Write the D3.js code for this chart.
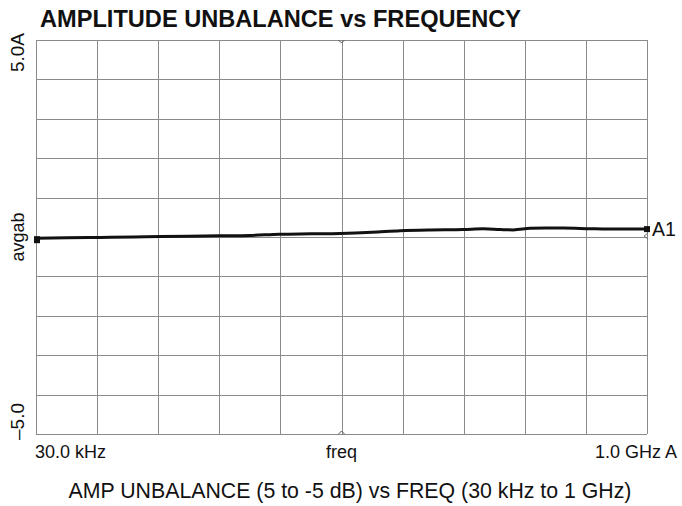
<!DOCTYPE html>
<html>
<head>
<meta charset="utf-8">
<script src="https://cdn.jsdelivr.net/npm/d3@7"></script>
<style>
  body { margin: 0; background: #fff; }
  text { font-family: "Liberation Sans", Arial, sans-serif; fill: #111; }
  .title { font-weight: bold; font-size: 23.6px; }
  .grid line { stroke: #8a8a8a; stroke-width: 1; shape-rendering: crispEdges; }
</style>
</head>
<body>
<div id="chart"></div>
<script>
// DATA: frequency in MHz (linear sweep) and amplitude unbalance in dB
const freqMHz = [0.03, 50, 105, 160, 203, 250, 300, 350, 399, 450, 498, 550, 596, 645, 699, 732, 760, 781, 809, 835, 863, 907, 935, 961, 1000];
const unbalanceDb = [-0.03, -0.02, -0.01, 0.0, 0.01, 0.02, 0.03, 0.04, 0.07, 0.08, 0.09, 0.12, 0.16, 0.18, 0.19, 0.21, 0.19, 0.18, 0.22, 0.23, 0.23, 0.21, 0.2, 0.2, 0.2];
const yDomain = [-5, 5];
const xDomain = [0.03, 1000];
const yTopLabel = "5.0A";
const yBottomLabel = "\u20135.0";
const xLeftLabel = "30.0 kHz";
const xRightLabel = "1.0 GHz A";

// 1: CREATE BLANK SVG
const W = 682, H = 506;
const margin = { top: 40, right: 35, bottom: 72, left: 36 },
      width = W - margin.left - margin.right,
      height = H - margin.top - margin.bottom;

const root = d3.select("#chart")
    .append("svg")
    .attr("width", W)
    .attr("height", H);

const svg = root.append("g")
    .attr("transform", `translate(${margin.left},${margin.top})`);

// 2: SCALES
const x = d3.scaleLinear().domain(xDomain).range([0, width]);
const y = d3.scaleLinear().domain(yDomain).range([height, 0]);

// 3: GRID (10 x 10 divisions)
const grid = svg.append("g").attr("class", "grid");
d3.range(11).forEach(i => {
    const gx = Math.round(width * i / 10) + 0.5;
    grid.append("line").attr("x1", gx).attr("x2", gx).attr("y1", 0).attr("y2", height);
    const gy = Math.round(y(yDomain[0] + i)) + 0.5;
    grid.append("line").attr("x1", 0).attr("x2", width).attr("y1", gy).attr("y2", gy);
});

// small reference carets at the centre of the top and bottom edges
const caret = (cx, cy, dir) => {
    svg.append("path")
        .attr("d", `M${cx - 3},${cy - 3 * dir} L${cx},${cy} L${cx + 3},${cy - 3 * dir}`)
        .attr("fill", "none").attr("stroke", "#555").attr("stroke-width", 1);
};
caret(width / 2, 3, 1);
caret(width / 2, height - 3, -1);

// 4: TRACE
const line = d3.line()
    .x((d, i) => x(freqMHz[i]))
    .y(d => y(d))
    .curve(d3.curveMonotoneX);

svg.append("path")
    .datum(unbalanceDb)
    .attr("fill", "none")
    .attr("stroke", "#111")
    .attr("stroke-width", 3)
    .attr("d", line);

// end markers
const first = unbalanceDb[0], last = unbalanceDb[unbalanceDb.length - 1];
svg.append("rect")
    .attr("x", x(xDomain[0]) - 2).attr("y", y(first) - 2)
    .attr("width", 6).attr("height", 7).attr("fill", "#111");
svg.append("rect")
    .attr("x", x(xDomain[1]) - 3).attr("y", y(last) - 3)
    .attr("width", 6).attr("height", 6).attr("fill", "#111");
svg.append("path")
    .attr("d", `M${x(xDomain[1]) + 1},${y(last) + 4} L${x(xDomain[1]) - 3},${y(last) + 7} L${x(xDomain[1]) + 1},${y(last) + 10}`)
    .attr("fill", "none").attr("stroke", "#777").attr("stroke-width", 1);

svg.append("text")
    .attr("x", x(xDomain[1]) + 5)
    .attr("y", y(last) + 7)
    .style("font-size", "19.5px")
    .text("A1");

// 5: LABELS
root.append("text")
    .attr("class", "title")
    .attr("x", 40)
    .attr("y", 27)
    .text("AMPLITUDE UNBALANCE vs FREQUENCY");

// y-axis labels (rotated)
root.append("text")
    .attr("transform", "translate(24,33) rotate(-90)")
    .attr("text-anchor", "end")
    .style("font-size", "19px")
    .text(yTopLabel);

root.append("text")
    .attr("transform", `translate(24,${margin.top + height / 2}) rotate(-90)`)
    .attr("text-anchor", "middle")
    .style("font-size", "18px")
    .text("avgab");

root.append("text")
    .attr("transform", "translate(24,440) rotate(-90)")
    .attr("text-anchor", "start")
    .style("font-size", "19px")
    .text(yBottomLabel);

// x-axis labels
root.append("text")
    .attr("x", 35).attr("y", 458)
    .style("font-size", "18px")
    .text(xLeftLabel);

root.append("text")
    .attr("x", margin.left + width / 2).attr("y", 458)
    .attr("text-anchor", "middle")
    .style("font-size", "18px")
    .text("freq");

root.append("text")
    .attr("x", 677).attr("y", 458)
    .attr("text-anchor", "end")
    .style("font-size", "18px")
    .text(xRightLabel);

// caption
root.append("text")
    .attr("x", 350).attr("y", 498)
    .attr("text-anchor", "middle")
    .style("font-size", "21.3px")
    .text("AMP UNBALANCE (5 to -5 dB) vs FREQ (30 kHz to 1 GHz)");
</script>
</body>
</html>
